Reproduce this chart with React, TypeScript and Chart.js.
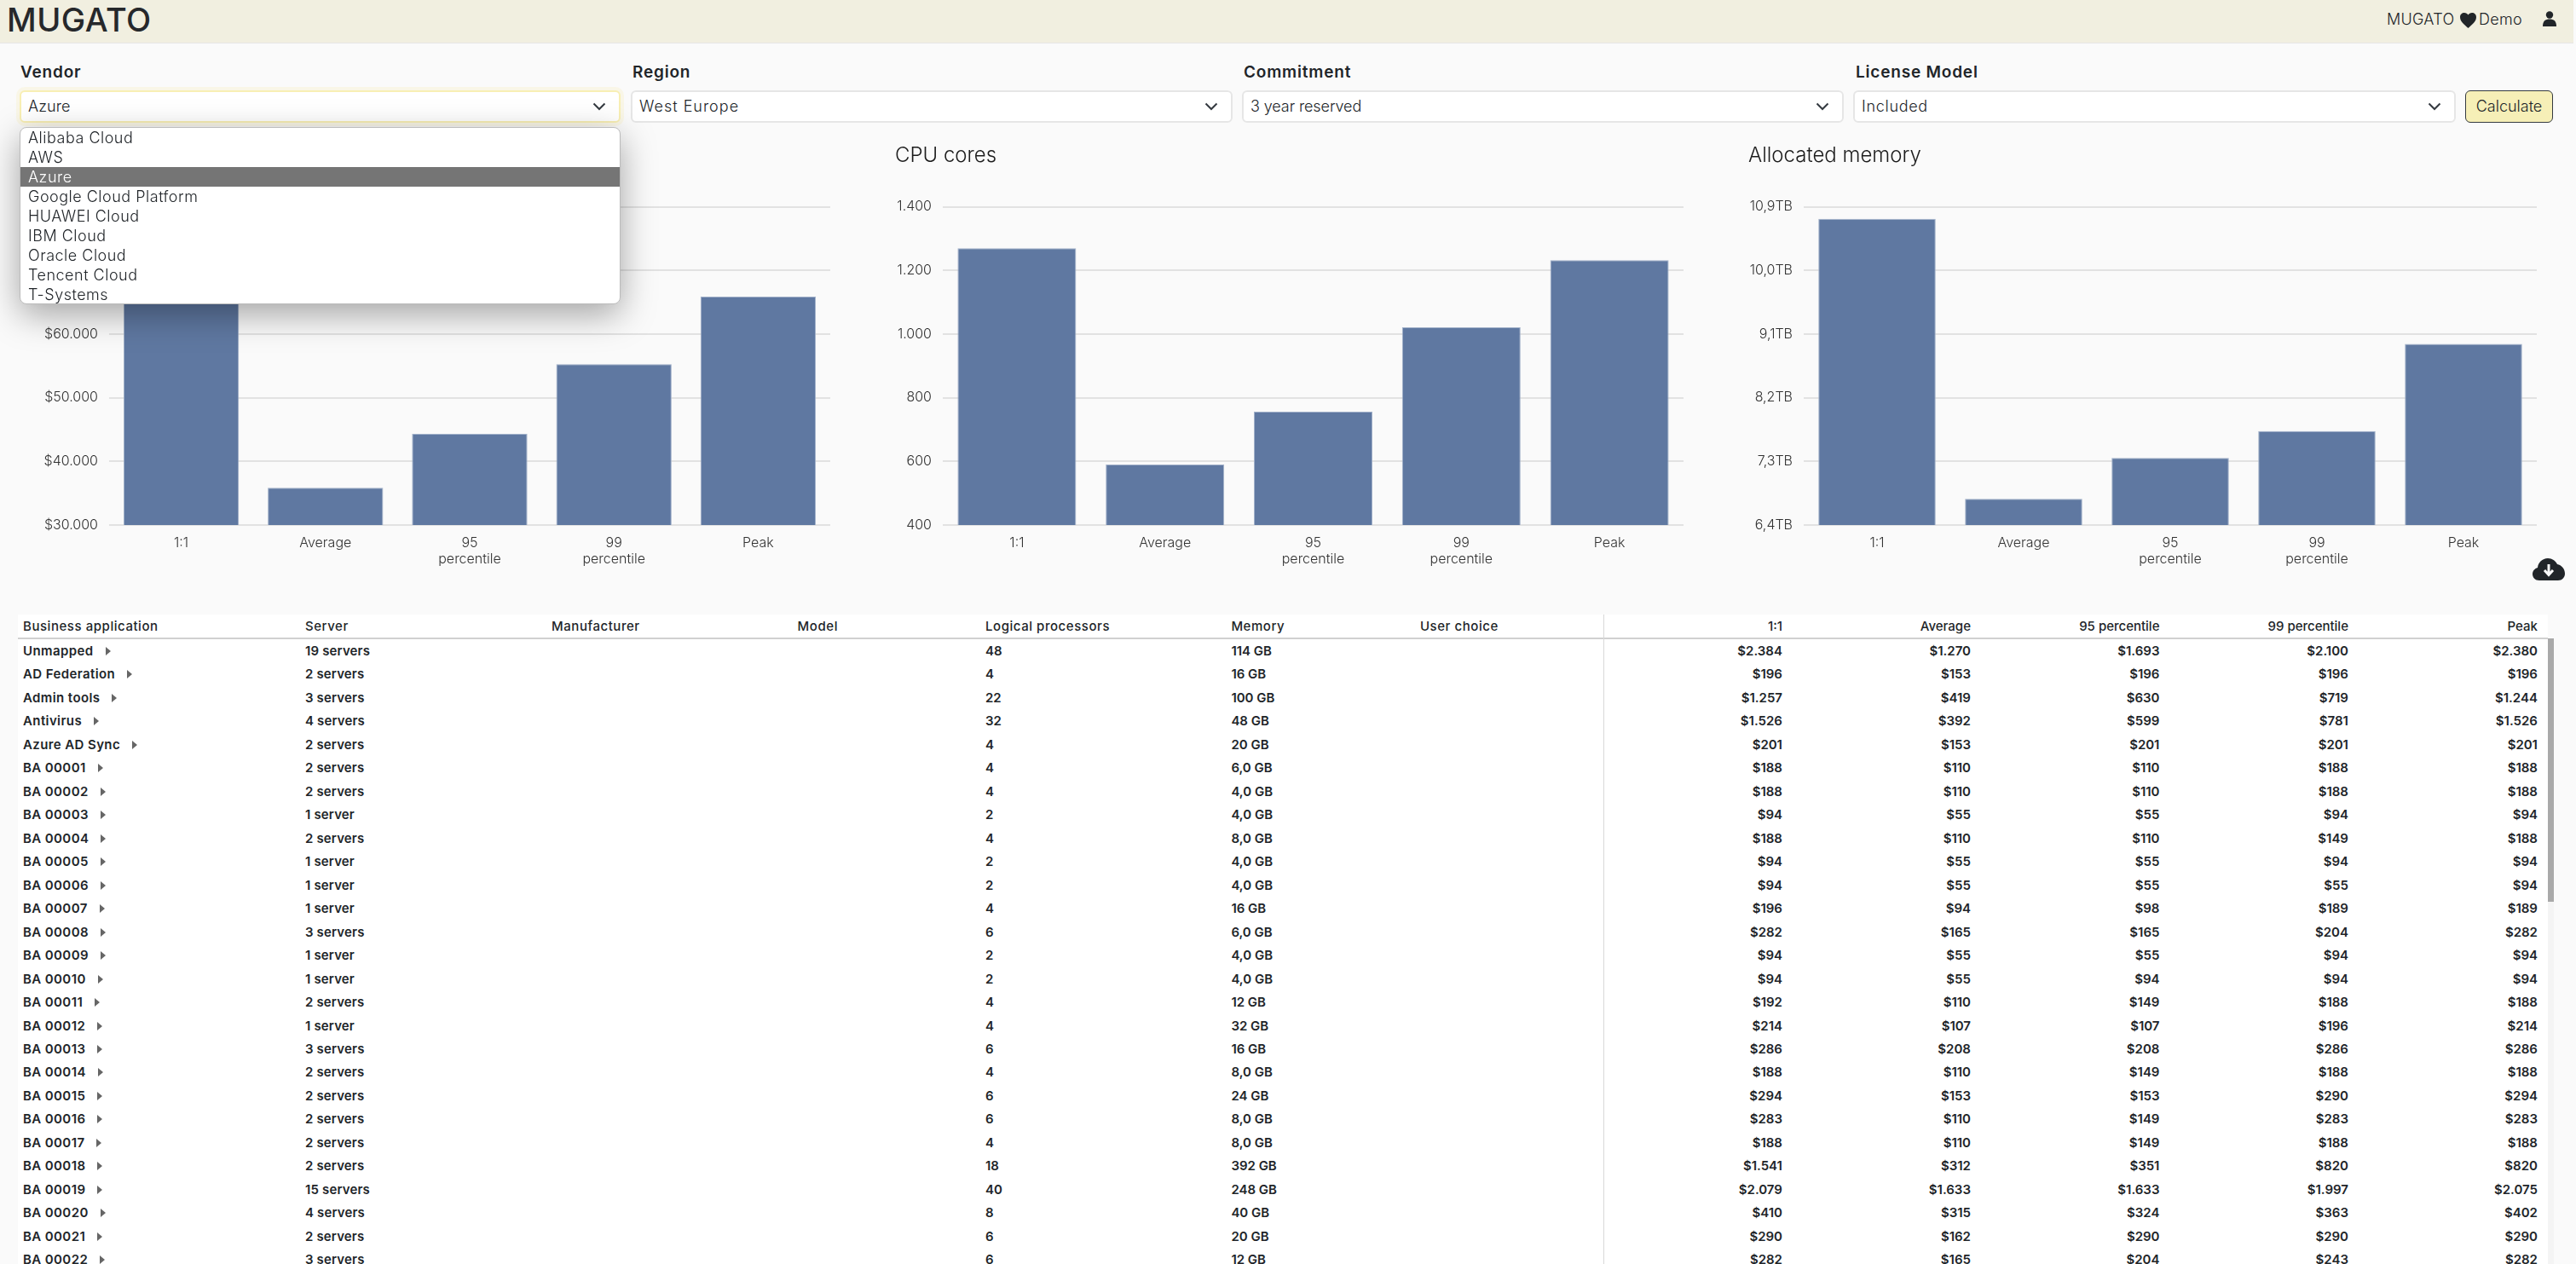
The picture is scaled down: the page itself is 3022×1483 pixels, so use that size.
import { useEffect, useRef } from 'react';
import { Chart, registerables } from 'chart.js';

Chart.register(...registerables);

const FONT = 'Inter, "Open Sans", sans-serif';

// chart data
const categories: (string | string[])[] = ['1:1', 'Average', ['95', 'percentile'], ['99', 'percentile'], 'Peak'];
const costValues = [78000, 35860, 44340, 55290, 65880];
const cpuValues = [1270, 590, 756, 1021, 1232];
const memoryValues = [10.73, 6.77, 7.35, 7.73, 8.96];

// dropdowns
const vendorOptions = ['Alibaba Cloud', 'AWS', 'Azure', 'Google Cloud Platform', 'HUAWEI Cloud', 'IBM Cloud', 'Oracle Cloud', 'Tencent Cloud', 'T-Systems'];

// table columns
const tableHeaders = ['Business application', 'Server', 'Manufacturer', 'Model', 'Logical processors', 'Memory', 'User choice', '1:1', 'Average', '95 percentile', '99 percentile', 'Peak'];
const columnWidths = [331, 289, 288.6, 220.4, 288.4, 221.6, 221, 216, 221, 221.5, 221.5, 222];

const appNames = ['Unmapped', 'AD Federation', 'Admin tools', 'Antivirus', 'Azure AD Sync', 'BA 00001', 'BA 00002', 'BA 00003', 'BA 00004', 'BA 00005', 'BA 00006', 'BA 00007', 'BA 00008', 'BA 00009', 'BA 00010', 'BA 00011', 'BA 00012', 'BA 00013', 'BA 00014', 'BA 00015', 'BA 00016', 'BA 00017', 'BA 00018', 'BA 00019', 'BA 00020', 'BA 00021', 'BA 00022'];
const serverCounts = ['19 servers', '2 servers', '3 servers', '4 servers', '2 servers', '2 servers', '2 servers', '1 server', '2 servers', '1 server', '1 server', '1 server', '3 servers', '1 server', '1 server', '2 servers', '1 server', '3 servers', '2 servers', '2 servers', '2 servers', '2 servers', '2 servers', '15 servers', '4 servers', '2 servers', '3 servers'];
const logicalProcessors = ['48', '4', '22', '32', '4', '4', '4', '2', '4', '2', '2', '4', '6', '2', '2', '4', '4', '6', '4', '6', '6', '4', '18', '40', '8', '6', '6'];
const memorySizes = ['114 GB', '16 GB', '100 GB', '48 GB', '20 GB', '6,0 GB', '4,0 GB', '4,0 GB', '8,0 GB', '4,0 GB', '4,0 GB', '16 GB', '6,0 GB', '4,0 GB', '4,0 GB', '12 GB', '32 GB', '16 GB', '8,0 GB', '24 GB', '8,0 GB', '8,0 GB', '392 GB', '248 GB', '40 GB', '20 GB', '12 GB'];
const cost1to1 = ['$2.384', '$196', '$1.257', '$1.526', '$201', '$188', '$188', '$94', '$188', '$94', '$94', '$196', '$282', '$94', '$94', '$192', '$214', '$286', '$188', '$294', '$283', '$188', '$1.541', '$2.079', '$410', '$290', '$282'];
const costAverage = ['$1.270', '$153', '$419', '$392', '$153', '$110', '$110', '$55', '$110', '$55', '$55', '$94', '$165', '$55', '$55', '$110', '$107', '$208', '$110', '$153', '$110', '$110', '$312', '$1.633', '$315', '$162', '$165'];
const cost95 = ['$1.693', '$196', '$630', '$599', '$201', '$110', '$110', '$55', '$110', '$55', '$55', '$98', '$165', '$55', '$94', '$149', '$107', '$208', '$149', '$153', '$149', '$149', '$351', '$1.633', '$324', '$290', '$204'];
const cost99 = ['$2.100', '$196', '$719', '$781', '$201', '$188', '$188', '$94', '$149', '$94', '$55', '$189', '$204', '$94', '$94', '$188', '$196', '$286', '$188', '$290', '$283', '$188', '$820', '$1.997', '$363', '$290', '$243'];
const costPeak = ['$2.380', '$196', '$1.244', '$1.526', '$201', '$188', '$188', '$94', '$188', '$94', '$94', '$189', '$282', '$94', '$94', '$188', '$214', '$286', '$188', '$294', '$283', '$188', '$820', '$2.075', '$402', '$290', '$282'];

type BarProps = {
  title: string;
  values: number[];
  min: number;
  max: number;
  step: number;
  format: (v: number) => string;
  left: number;
  width: number;
  axisWidth: number;
};

function BarChart({ title, values, min, max, step, format, left, width, axisWidth }: BarProps) {
  const canvasRef = useRef<HTMLCanvasElement | null>(null);

  useEffect(() => {
    if (!canvasRef.current) return;
    const chart = new Chart(canvasRef.current, {
      type: 'bar',
      data: {
        labels: categories as any,
        datasets: [{
          data: values,
          backgroundColor: '#5f78a1',
          borderColor: '#a3b2ca',
          borderWidth: 1,
          borderSkipped: false,
          barPercentage: 0.8,
          categoryPercentage: 1,
        }],
      },
      options: {
        animation: false,
        responsive: false,
        maintainAspectRatio: false,
        plugins: {
          legend: { display: false },
          tooltip: { enabled: false },
          title: {
            display: true,
            text: title,
            align: 'start',
            color: '#1c1c1c',
            font: { family: FONT, size: 24, weight: '300', lineHeight: 1.25 },
            padding: { top: 8, bottom: 44.6 },
          },
        },
        scales: {
          x: {
            grid: { display: false, drawTicks: false },
            border: { display: false },
            ticks: {
              color: '#333',
              padding: 12,
              maxRotation: 0,
              autoSkip: false,
              font: { family: FONT, size: 16, weight: '300', lineHeight: 1.19 },
            },
            afterFit: (scale: any) => { scale.height = 64; },
          },
          y: {
            min,
            max,
            grid: { color: '#e2e2e2', lineWidth: 2, drawTicks: false },
            border: { display: false },
            ticks: {
              stepSize: step,
              color: '#333',
              padding: 13,
              font: { family: FONT, size: 16, weight: '300' },
              callback: (v: any) => format(Number(v)),
            },
            afterFit: (scale: any) => { scale.width = axisWidth; },
          },
        },
      },
    } as any);
    return () => chart.destroy();
  }, []);

  return (
    <canvas
      ref={canvasRef}
      width={width}
      height={520}
      style={{ position: 'absolute', left, top: 160, width, height: 520 }}
    />
  );
}

const Chevron = ({ x }: { x: number }) => (
  <svg width="16" height="10" viewBox="0 0 16 10" style={{ position: 'absolute', left: x - 8, top: 120 }}>
    <polyline points="1.5,1.5 8,8 14.5,1.5" fill="none" stroke="#343a40" strokeWidth="2" />
  </svg>
);

type SelectProps = { label: string; value: string; left: number; right: number; labelLeft: number; spacing: number; focus?: boolean };

function Select({ label, value, left, right, labelLeft, spacing, focus }: SelectProps) {
  return (
    <>
      <div style={{ position: 'absolute', left: labelLeft, top: 73, lineHeight: '24px', fontSize: 19, fontWeight: 600, letterSpacing: 0.8, color: '#212529' }}>{label}</div>
      <div style={{
        position: 'absolute', left, top: 106, width: right - left, height: 38, boxSizing: 'border-box',
        background: '#fff', borderRadius: 6, border: focus ? '2px solid #f8efb4' : '2px solid #e6e6e6',
        boxShadow: focus ? '0 0 0 4px rgba(247,240,190,0.3)' : 'none',
        paddingLeft: 8, lineHeight: '34px', fontSize: 18, fontWeight: 300, letterSpacing: spacing, color: '#212529',
      }}>{value}</div>
      <Chevron x={right - 25} />
    </>
  );
}

const Cell = ({ width, right, children, spacing }: { width: number; right: boolean; children?: any; spacing: number }) => (
  <div style={{
    width, flex: 'none', boxSizing: 'border-box', whiteSpace: 'nowrap', letterSpacing: spacing,
    textAlign: right ? 'right' : 'left', paddingLeft: right ? 0 : 6, paddingRight: right ? 6 : 0,
  }}>{children}</div>
);

export default function App() {
  const rows = appNames.map((name, i) => [
    name, serverCounts[i], '', '', logicalProcessors[i], memorySizes[i], '',
    cost1to1[i], costAverage[i], cost95[i], cost99[i], costPeak[i],
  ]);

  return (
    <div style={{ position: 'fixed', left: 0, top: 0, width: 3022, height: 1483, overflow: 'hidden', background: '#fafafa', fontFamily: FONT, color: '#212529' }}>
      {/* top bar */}
      <div style={{ position: 'absolute', left: 0, top: 0, width: 3019, height: 51, boxSizing: 'border-box', background: '#f1efe0', borderBottom: '1px solid #e6e6e6' }}>
        <div style={{ position: 'absolute', left: 8, top: 0, lineHeight: '46px', fontSize: 38, fontWeight: 500, color: '#26282b', letterSpacing: 0.5 }}>MUGATO</div>
        <div style={{ position: 'absolute', left: 2800, top: 11, lineHeight: '24px', fontSize: 18, fontWeight: 300, letterSpacing: 0.3, whiteSpace: 'nowrap' }}>MUGATO</div>
        <svg width="19" height="18" viewBox="0 0 19 18" style={{ position: 'absolute', left: 2886, top: 15 }}>
          <path d="M9.5 18 C4 13 0 10 0 5 C0 2 2.2 0 5 0 C7 0 8.6 1 9.5 2.6 C10.4 1 12 0 14 0 C16.8 0 19 2 19 5 C19 10 15 13 9.5 18 Z" fill="#212529" />
        </svg>
        <div style={{ position: 'absolute', left: 2908, top: 11, lineHeight: '24px', fontSize: 18, fontWeight: 300, letterSpacing: 0.3 }}>Demo</div>
        <svg width="16" height="18" viewBox="0 0 16 18" style={{ position: 'absolute', left: 2983, top: 13 }}>
          <circle cx="8" cy="4.5" r="4.2" fill="#212529" />
          <path d="M0 18 C0 11.5 3 9.5 8 9.5 C13 9.5 16 11.5 16 18 Z" fill="#212529" />
        </svg>
      </div>

      {/* filters */}
      <Select label="Vendor" value="Azure" left={23} right={728} labelLeft={24} spacing={0.1} focus />
      <Select label="Region" value="West Europe" left={740} right={1446} labelLeft={742} spacing={1} />
      <Select label="Commitment" value="3 year reserved" left={1457} right={2163} labelLeft={1459} spacing={-0.1} />
      <Select label="License Model" value="Included" left={2174} right={2881} labelLeft={2177} spacing={0.7} />
      <div style={{
        position: 'absolute', left: 2892, top: 106, width: 103, height: 38, boxSizing: 'border-box', background: '#f6efb7',
        border: '1.5px solid #343a40', borderRadius: 6, textAlign: 'center', lineHeight: '35px', fontSize: 18, fontWeight: 300,
      }}>Calculate</div>

      {/* charts, first one has its title behind the open dropdown */}
      <BarChart title="" values={costValues} min={30000} max={80000} step={10000} left={50} width={924} axisWidth={78}
        format={(v) => '$' + v.toLocaleString('de-DE')} />
      <BarChart title="CPU cores" values={cpuValues} min={400} max={1400} step={200} left={1050} width={925} axisWidth={56}
        format={(v) => v.toLocaleString('de-DE')} />
      <BarChart title="Allocated memory" values={memoryValues} min={6.4} max={10.9} step={0.9} left={2051} width={925} axisWidth={65}
        format={(v) => v.toFixed(1).replace('.', ',') + 'TB'} />

      {/* cloud download */}
      <svg width="38" height="26" viewBox="0 0 38 26" style={{ position: 'absolute', left: 2971, top: 655 }}>
        <path d="M8 26 C3 26 0 22.5 0 18.5 C0 15 2.5 12 6 11 C6.5 5 11.5 0 18 0 C23 0 27 3 29 7 C34 8 38 12.5 38 18 C38 22.5 34.5 26 30 26 Z" fill="#212529" />
        <path d="M19 7 V18 M14 14 L19 19.5 L24 14" fill="none" stroke="#fafafa" strokeWidth="3" />
      </svg>

      {/* table */}
      <div style={{ position: 'absolute', left: 21, top: 721, width: 2968, height: 762, background: '#fff', overflow: 'hidden', fontSize: 15 }}>
        <div style={{ display: 'flex', height: 29, boxSizing: 'border-box', borderBottom: '2px solid #d0d0d0', lineHeight: '27px', fontWeight: 500 }}>
          {tableHeaders.map((h, i) => <Cell key={h} width={columnWidths[i]} right={i > 6} spacing={i > 6 ? 0 : 0.55}>{h}</Cell>)}
        </div>
        {rows.map((row) => (
          <div key={row[0]} style={{ display: 'flex', height: 27.47, lineHeight: '27.47px', fontWeight: 600 }}>
            {row.map((v, i) => (
              <Cell key={i} width={columnWidths[i]} right={i > 6} spacing={i === 0 ? 0.4 : i === 1 ? 0.15 : 0}>
                {v}
                {i === 0 && <span style={{ display: 'inline-block', marginLeft: 14, width: 0, height: 0, borderLeft: '6px solid #666', borderTop: '5px solid transparent', borderBottom: '5px solid transparent' }} />}
              </Cell>
            ))}
          </div>
        ))}
        <div style={{ position: 'absolute', left: 1860, top: 0, width: 1, height: 762, background: '#d8d8d8' }} />
      </div>
      <div style={{ position: 'absolute', left: 2989, top: 749, width: 7, height: 734, background: '#f4f4f4' }} />
      <div style={{ position: 'absolute', left: 2989, top: 749, width: 7, height: 309, background: '#a9a9a9' }} />

      {/* open vendor list */}
      <div style={{
        position: 'absolute', left: 23, top: 149, width: 705, height: 208, boxSizing: 'border-box', background: '#fff',
        border: '1px solid #bbb', borderRadius: 8, boxShadow: '0 12px 40px rgba(0,0,0,0.35)', overflow: 'hidden',
        fontSize: 18, fontWeight: 300, letterSpacing: 0.5,
      }}>
        {vendorOptions.map((o) => (
          <div key={o} style={{ height: 23, lineHeight: '23px', paddingLeft: 9, background: o === 'Azure' ? '#757575' : 'transparent', color: o === 'Azure' ? '#fff' : '#212529' }}>{o}</div>
        ))}
      </div>
    </div>
  );
}
